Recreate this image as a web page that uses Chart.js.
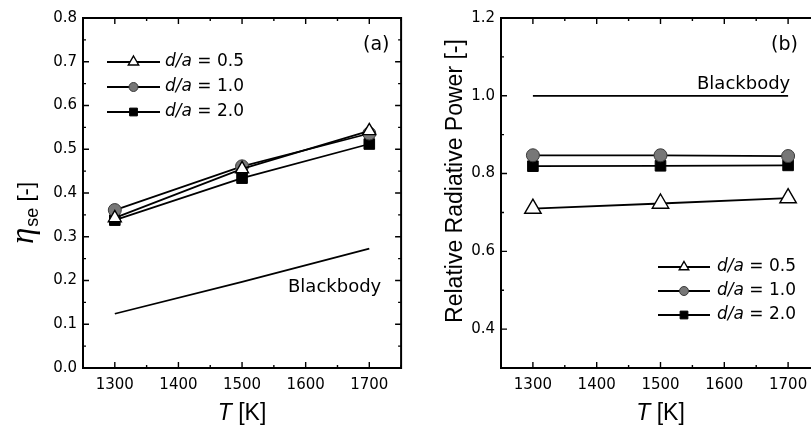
<!DOCTYPE html>
<html>
<head>
<meta charset="utf-8">
<script src="https://cdn.jsdelivr.net/npm/chart.js@4.4.1/dist/chart.umd.min.js"></script>
<style>
html, body { margin: 0; padding: 0; background: #fff; overflow: hidden; width: 811px; height: 430px; }
#wrapA { position: absolute; left: 0; top: 0; }
#wrapB { position: absolute; left: 410px; top: 0; }
</style>
</head>
<body>
<div id="wrapA"><canvas id="chartA" width="410" height="430"></canvas></div>
<div id="wrapB"><canvas id="chartB" width="430" height="430"></canvas></div>
<script>
// temperatures and axis ticks
var temps = [1300, 1500, 1700];
var xTicks = [1300, 1400, 1500, 1600, 1700];
var yTicksA = [0.0, 0.1, 0.2, 0.3, 0.4, 0.5, 0.6, 0.7, 0.8];
var yTicksB = [0.4, 0.6, 0.8, 1.0, 1.2];
var ratios = ['0.5', '1.0', '2.0'];

// panel (a): eta_se
var etaDa05 = [0.343, 0.455, 0.542];
var etaDa10 = [0.361, 0.461, 0.536];
var etaDa20 = [0.338, 0.434, 0.512];
var etaBlack = [0.124, 0.197, 0.273];

// panel (b): relative radiative power
var powDa05 = [0.710, 0.723, 0.737];
var powDa10 = [0.847, 0.847, 0.845];
var powDa20 = [0.819, 0.820, 0.821];
var powBlack = [1.0, 1.0, 1.0];

var SANS = '"DejaVu Sans"';
var ARIAL = '"Liberation Sans"';

function pts(vals) {
  return temps.map(function (t, i) { return { x: t, y: vals[i] }; });
}

function makeSets(v05, v10, v20, black, big) {
  return [
    { label: ratios[0], data: pts(v05), borderColor: '#000', borderWidth: 1.8,
      pointStyle: 'triangle', pointRadius: big ? 9.5 : 7.5, pointBackgroundColor: '#fff',
      pointBorderColor: '#000', pointBorderWidth: 1.4, legendRadius: big ? 5.5 : 6 },
    { label: ratios[1], data: pts(v10), borderColor: '#000', borderWidth: 1.8,
      pointStyle: 'circle', pointRadius: 6.5, pointBackgroundColor: '#777',
      pointBorderColor: '#3a3a3a', pointBorderWidth: 1, legendRadius: 4.5 },
    { label: ratios[2], data: pts(v20), borderColor: '#000', borderWidth: 1.8,
      pointStyle: 'rect', pointRadius: 7.5, pointBackgroundColor: '#000',
      pointBorderColor: '#000', pointBorderWidth: 1, legendRadius: 5.5 },
    { label: 'Blackbody', data: pts(black), borderColor: '#000', borderWidth: 1.8,
      pointRadius: 0, noLegend: true }
  ];
}

function drawFrame(chart, o) {
  var ctx = chart.ctx, a = chart.chartArea, xs = chart.scales.x, ys = chart.scales.y;
  ctx.save();
  ctx.strokeStyle = '#000';
  ctx.lineWidth = 2;
  ctx.strokeRect(a.left, a.top, a.right - a.left, a.bottom - a.top);
  ctx.lineWidth = 1.4;
  ctx.beginPath();
  var n, v, p, len;
  for (n = 0; ; n++) {
    v = xs.min + n * o.xMinor;
    if (v > xs.max + 1e-9) break;
    p = xs.getPixelForValue(v);
    len = Math.abs(v / o.xMajor - Math.round(v / o.xMajor)) < 1e-6 ? 6 : 3;
    ctx.moveTo(p, a.bottom); ctx.lineTo(p, a.bottom - len);
    ctx.moveTo(p, a.top); ctx.lineTo(p, a.top + len);
  }
  for (n = 0; ; n++) {
    v = ys.min + n * o.yMinor;
    if (v > ys.max + 1e-9) break;
    p = ys.getPixelForValue(v);
    len = Math.abs(v / o.yMajor - Math.round(v / o.yMajor)) < 1e-6 ? 6 : 3;
    ctx.moveTo(a.left, p); ctx.lineTo(a.left + len, p);
    ctx.moveTo(a.right, p); ctx.lineTo(a.right - len, p);
  }
  ctx.stroke();
  ctx.restore();
}

function drawLegend(chart, lg) {
  var ctx = chart.ctx;
  var row = 0;
  chart.data.datasets.forEach(function (ds) {
    if (ds.noLegend) return;
    var y = lg.y + row * lg.gap;
    row++;
    ctx.save();
    ctx.strokeStyle = ds.borderColor;
    ctx.lineWidth = ds.borderWidth;
    ctx.beginPath();
    ctx.moveTo(lg.x1, y); ctx.lineTo(lg.x2, y);
    ctx.stroke();
    ctx.fillStyle = ds.pointBackgroundColor;
    ctx.strokeStyle = ds.pointBorderColor;
    ctx.lineWidth = ds.pointBorderWidth;
    Chart.helpers.drawPoint(ctx, { pointStyle: ds.pointStyle, rotation: 0,
      radius: ds.legendRadius, borderWidth: ds.pointBorderWidth }, (lg.x1 + lg.x2) / 2, y);
    ctx.fillStyle = '#000';
    ctx.textBaseline = 'middle';
    ctx.textAlign = 'left';
    ctx.font = 'italic 17px ' + SANS;
    ctx.fillText('d/a', lg.tx, y);
    var w = ctx.measureText('d/a').width;
    ctx.font = '17px ' + SANS;
    ctx.fillText(' = ' + ds.label, lg.tx + w, y);
    ctx.restore();
  });
}

function drawXTitle(chart, cx, base) {
  var ctx = chart.ctx;
  ctx.save();
  ctx.fillStyle = '#000';
  ctx.textBaseline = 'alphabetic';
  ctx.textAlign = 'left';
  ctx.font = 'italic 23px ' + ARIAL;
  var w1 = ctx.measureText('T').width;
  ctx.font = '23px ' + ARIAL;
  var w2 = ctx.measureText(' [K]').width;
  var x0 = cx - (w1 + w2) / 2;
  ctx.font = 'italic 23px ' + ARIAL;
  ctx.fillText('T', x0, base);
  ctx.font = '23px ' + ARIAL;
  ctx.fillText(' [K]', x0 + w1, base);
  ctx.restore();
}

function drawText(chart, txt, x, y, font) {
  var ctx = chart.ctx;
  ctx.save();
  ctx.fillStyle = '#000';
  ctx.font = font;
  ctx.textBaseline = 'alphabetic';
  ctx.textAlign = 'left';
  ctx.fillText(txt, x, y);
  ctx.restore();
}

var decorA = {
  id: 'decorA',
  afterDraw: function (chart) {
    drawFrame(chart, { xMinor: 50, xMajor: 100, yMinor: 0.05, yMajor: 0.1 });
    drawLegend(chart, { x1: 107, x2: 160, tx: 165, y: 62, gap: 25 });
    drawText(chart, 'Blackbody', 288, 292, '18px ' + SANS);
    drawText(chart, '(a)', 363, 50, '19px ' + SANS);
    drawXTitle(chart, (chart.chartArea.left + chart.chartArea.right) / 2, 420);
    // y title: eta_se [-]
    var ctx = chart.ctx;
    ctx.save();
    ctx.translate(33, 244);
    ctx.rotate(-Math.PI / 2);
    ctx.fillStyle = '#000';
    ctx.textBaseline = 'alphabetic';
    ctx.textAlign = 'left';
    ctx.font = 'italic 33px "Liberation Serif"';
    ctx.fillText('η', 0, 0);
    var x = ctx.measureText('η').width + 1;
    ctx.font = '18px ' + ARIAL;
    ctx.fillText('se', x, 5);
    x += ctx.measureText('se').width;
    ctx.font = '22px ' + ARIAL;
    ctx.fillText(' [-]', x, 0);
    ctx.restore();
  }
};

var decorB = {
  id: 'decorB',
  afterDraw: function (chart) {
    drawFrame(chart, { xMinor: 50, xMajor: 100, yMinor: 0.1, yMajor: 0.2 });
    drawLegend(chart, { x1: 248, x2: 300, tx: 307, y: 267, gap: 24 });
    drawText(chart, 'Blackbody', 287, 89, '18px ' + SANS);
    drawText(chart, '(b)', 361, 50, '19px ' + SANS);
    drawXTitle(chart, (chart.chartArea.left + chart.chartArea.right) / 2, 420);
    var ctx = chart.ctx;
    ctx.save();
    ctx.translate(52, 181);
    ctx.rotate(-Math.PI / 2);
    ctx.fillStyle = '#000';
    ctx.textBaseline = 'alphabetic';
    ctx.textAlign = 'center';
    ctx.font = '23px ' + ARIAL;
    ctx.fillText('Relative Radiative Power [-]', 0, 0);
    ctx.restore();
  }
};

function makeOptions(yMin, yMax, yTicks, yWidth, padRight) {
  var tickFont = { family: 'DejaVu Sans', size: 15 };
  return {
    responsive: false,
    animation: false,
    layout: { padding: { top: 18, right: padRight, left: 0, bottom: 0 } },
    elements: { line: { tension: 0 } },
    plugins: { legend: { display: false }, tooltip: { enabled: false } },
    scales: {
      x: {
        type: 'linear', min: 1250, max: 1750,
        afterBuildTicks: function (s) { s.ticks = xTicks.map(function (v) { return { value: v }; }); },
        afterFit: function (s) { s.height = 62; },
        ticks: { font: tickFont, color: '#000', padding: 8, maxRotation: 0, autoSkip: false,
          callback: function (v) { return String(v); } },
        grid: { display: false, drawTicks: false },
        border: { display: false }
      },
      y: {
        type: 'linear', min: yMin, max: yMax,
        afterBuildTicks: function (s) { s.ticks = yTicks.map(function (v) { return { value: v }; }); },
        afterFit: function (s) { s.width = yWidth; },
        ticks: { font: tickFont, color: '#000', padding: 6,
          callback: function (v) { return v.toFixed(1); } },
        grid: { display: false, drawTicks: false },
        border: { display: false }
      }
    }
  };
}

new Chart(document.getElementById('chartA').getContext('2d'), {
  type: 'line',
  data: { datasets: makeSets(etaDa05, etaDa10, etaDa20, etaBlack, false) },
  options: makeOptions(0, 0.8, yTicksA, 83, 7),
  plugins: [decorA]
});

new Chart(document.getElementById('chartB').getContext('2d'), {
  type: 'line',
  data: { datasets: makeSets(powDa05, powDa10, powDa20, powBlack, true) },
  options: makeOptions(0.3, 1.2, yTicksB, 91, 20),
  plugins: [decorB]
});
</script>
</body>
</html>
